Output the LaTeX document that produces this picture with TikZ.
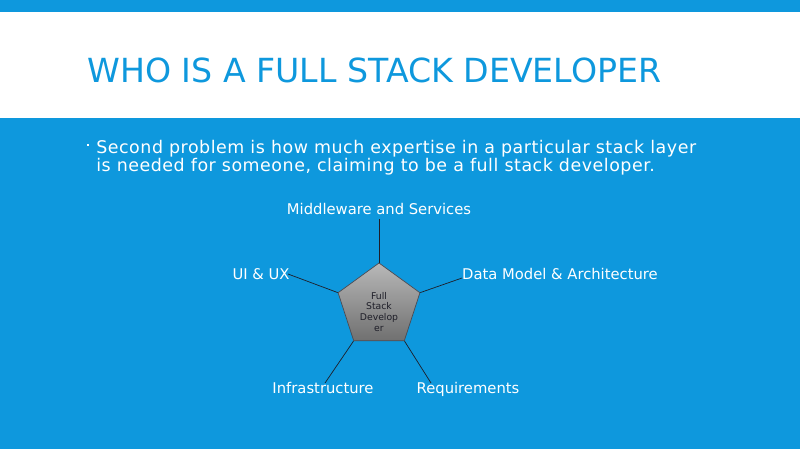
\documentclass[tikz,border=0pt]{standalone}
\usepackage{fontspec}
\setmainfont{DejaVu Sans}
\newfontfamily\pointfont[LetterSpace=3]{DejaVu Sans}
\usepackage{tikz}
\usetikzlibrary{shapes.geometric}
\definecolor{slideblue}{RGB}{14, 152, 221}
\definecolor{pentop}{RGB}{184, 184, 184}
\definecolor{penbot}{RGB}{112, 112, 112}
\definecolor{spoke}{RGB}{30, 30, 40}

\begin{document}
\begin{tikzpicture}[x=0.025cm, y=-0.025cm,
    layer/.style={font=\fontsize{10.5}{12}\selectfont, text=white, anchor=base},
    spokeline/.style={draw=spoke, line width=0.5pt},
    penta/.style={
      regular polygon, regular polygon sides=5,
      minimum size=2.15cm, inner sep=0pt,
      draw=spoke!80, line width=0.5pt,
      top color=pentop, bottom color=penbot
    }
  ]

  % ── Slide background ───────────────────────────────────────────
  \useasboundingbox (0,0) rectangle (800,449);
  \fill[slideblue] (0,0) rectangle (800,12);
  \fill[white]     (0,12) rectangle (800,118);
  \fill[slideblue] (0,118) rectangle (800,449);

  % ── Title and bullet ───────────────────────────────────────────
  \node[anchor=base west, inner sep=0pt, text=slideblue,
        font=\fontsize{23.6}{28}\selectfont] (title) at (87,82)
    {WHO IS A FULL STACK DEVELOPER};
  \fill[white] (86.5,143.5) rectangle (89,146) coordinate (dot);
  \node[anchor=north west, inner sep=0pt, text=white, align=left,
        font=\pointfont\fontsize{12.4}{12.8}\selectfont] (point) at (96,140)
    {Second problem is how much expertise in a particular stack layer\\
     is needed for someone, claiming to be a full stack developer.};

  % ── Pentagon in the middle ─────────────────────────────────────
  \node[penta] (dev) at (379,306) {};
  \node[align=center, text=spoke, inner sep=0pt,
        font=\fontsize{6.6}{7.8}\selectfont] (devtxt) at (379,312)
    {Full\\Stack\\Develop\\er};

  % ── Stack layers round it ──────────────────────────────────────
  \node[layer] (mw)    at (379,214) {Middleware and Services};
  \node[layer] (ui)    at (261,279) {UI \& UX};
  \node[layer] (data)  at (560,279) {Data Model \& Architecture};
  \node[layer] (infra) at (323,393) {Infrastructure};
  \node[layer] (req)   at (468,393) {Requirements};

  \coordinate (uiend)    at (288,274);
  \coordinate (dataend)  at (462,278);
  \coordinate (infraend) at (325,383);
  \coordinate (reqend)   at (431,383);

  \draw[spokeline] (dev.corner 1) -- (mw.south);
  \draw[spokeline] (dev.corner 2) -- (uiend);
  \draw[spokeline] (dev.corner 5) -- (dataend);
  \draw[spokeline] (dev.corner 3) -- (infraend);
  \draw[spokeline] (dev.corner 4) -- (reqend);

\end{tikzpicture}
\end{document}
